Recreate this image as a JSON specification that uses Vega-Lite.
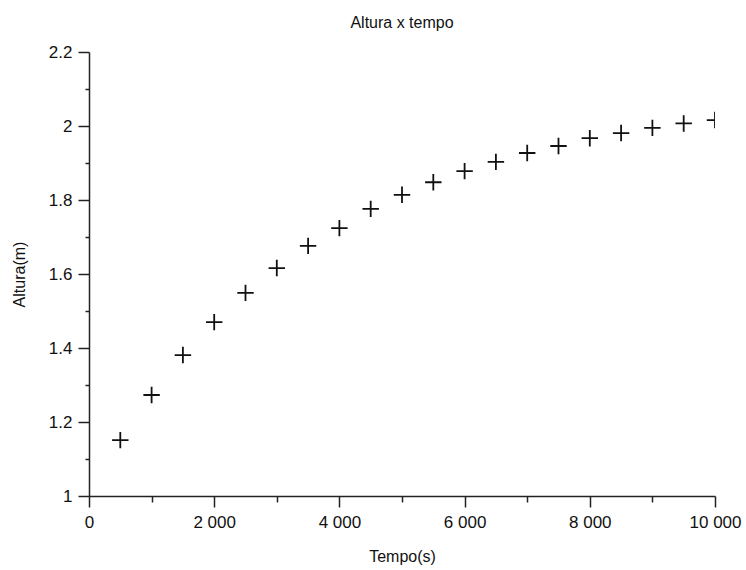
{
  "$schema": "https://vega.github.io/schema/vega-lite/v6.json",
  "width": 626,
  "height": 444,
  "autosize": {"type": "none"},
  "padding": {"left": 89, "top": 52, "right": 31, "bottom": 74},
  "background": "white",
  "title": {"text": "Altura x tempo", "font": "Liberation Sans", "fontSize": 16, "fontWeight": "normal", "color": "#111", "anchor": "middle", "baseline": "bottom", "offset": -4},
  "config": {"view": {"stroke": null}},
  "data": {"values": [
    {"t": 500, "h": 1.151},
    {"t": 1000, "h": 1.273},
    {"t": 1500, "h": 1.381},
    {"t": 2000, "h": 1.47},
    {"t": 2500, "h": 1.549},
    {"t": 3000, "h": 1.616},
    {"t": 3500, "h": 1.676},
    {"t": 4000, "h": 1.724},
    {"t": 4500, "h": 1.776},
    {"t": 5000, "h": 1.814},
    {"t": 5500, "h": 1.848},
    {"t": 6000, "h": 1.878},
    {"t": 6500, "h": 1.903},
    {"t": 7000, "h": 1.927},
    {"t": 7500, "h": 1.946},
    {"t": 8000, "h": 1.967},
    {"t": 8500, "h": 1.981},
    {"t": 9000, "h": 1.995},
    {"t": 9500, "h": 2.007},
    {"t": 10000, "h": 2.016}
  ]},
  "mark": {"type": "point", "shape": "M-1,0H1M0,-1V1", "filled": false, "size": 270, "strokeWidth": 1.8, "color": "#111", "opacity": 1, "clip": true},
  "encoding": {
    "x": {"field": "t", "type": "quantitative",
      "scale": {"domain": [0, 10000], "nice": false, "zero": false},
      "axis": {"title": "Tempo(s)", "grid": false,
        "values": [0, 1000, 2000, 3000, 4000, 5000, 6000, 7000, 8000, 9000, 10000],
        "labelExpr": "datum.value % 2000 === 0 ? replace(format(datum.value, ','), ',', ' ') : ''",
        "tickSize": {"condition": {"test": "datum.value % 2000 === 0", "value": 11}, "value": 6},
        "labelPadding": 7, "labelFont": "Liberation Sans", "labelFontSize": 17, "labelColor": "#111",
        "titleFont": "Liberation Sans", "titleFontSize": 16, "titleFontWeight": "normal", "titleColor": "#111", "titlePadding": 18,
        "domainColor": "#222", "tickColor": "#222", "domainWidth": 1.5, "tickWidth": 1.5, "labelFlush": false, "labelOverlap": false}},
    "y": {"field": "h", "type": "quantitative",
      "scale": {"domain": [1, 2.2], "nice": false, "zero": false},
      "axis": {"title": "Altura(m)", "grid": false,
        "values": [1, 1.1, 1.2, 1.3, 1.4, 1.5, 1.6, 1.7, 1.8, 1.9, 2, 2.1, 2.2],
        "labelExpr": "abs(datum.value*5 - round(datum.value*5)) < 0.001 ? format(datum.value, '~g') : ''",
        "tickSize": {"condition": {"test": "abs(datum.value*5 - round(datum.value*5)) < 0.001", "value": 11}, "value": 4},
        "labelPadding": 6, "labelFont": "Liberation Sans", "labelFontSize": 17, "labelColor": "#111",
        "titleFont": "Liberation Sans", "titleFontSize": 16, "titleFontWeight": "normal", "titleColor": "#111",
        "titlePadding": 21,
        "domainColor": "#222", "tickColor": "#222", "domainWidth": 1.5, "tickWidth": 1.5, "labelFlush": false, "labelOverlap": false}}
  }
}
